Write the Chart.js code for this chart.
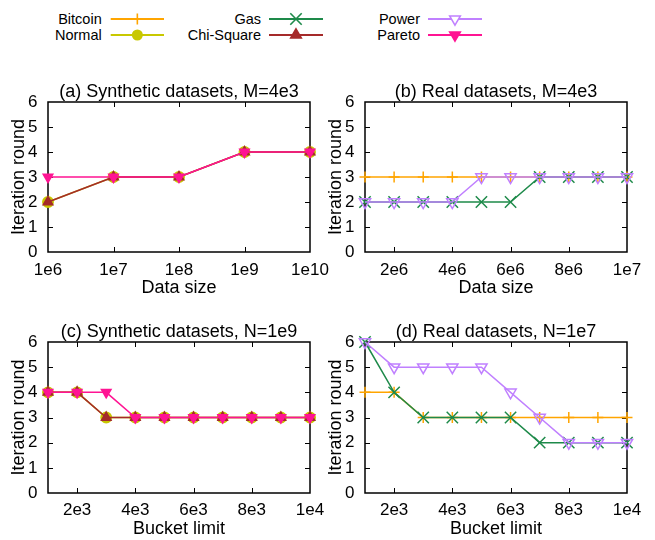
<!DOCTYPE html>
<html><head><meta charset="utf-8">
<script src="https://cdn.jsdelivr.net/npm/chart.js@4"></script>
<style>
html,body{margin:0;padding:0;background:#fff;}
#wrap{position:relative;width:655px;height:540px;overflow:hidden;font-family:'Liberation Sans',Arial,sans-serif;background:#fff;}
canvas{position:absolute;}
.lt{position:absolute;width:150px;text-align:right;font-size:14.5px;line-height:16px;color:#000;white-space:nowrap;}
#lsvg{position:absolute;left:0;top:0;}
</style></head><body>
<div id="wrap">
  <svg id="lsvg" width="655" height="50"></svg>
  <canvas id="ca" width="330" height="232" style="left:0;top:78px"></canvas>
  <canvas id="cb" width="338" height="232" style="left:317px;top:78px"></canvas>
  <canvas id="cc" width="330" height="222" style="left:0;top:318px"></canvas>
  <canvas id="cd" width="338" height="222" style="left:317px;top:318px"></canvas>
</div>
<script>
// ---------------- data ----------------
const seriesNames = ['Bitcoin', 'Normal', 'Gas', 'Chi-Square', 'Power', 'Pareto'];

// (a) Synthetic datasets, M=4e3
const dataSizeSynthetic = [1e6, 1e7, 1e8, 1e9, 1e10];
const normalA = [2, 3, 3, 4, 4];
const chiSquareA = [2, 3, 3, 4, 4];
const paretoA = [3, 3, 3, 4, 4];

// (b) Real datasets, M=4e3
const dataSizeReal = [1e6, 2e6, 3e6, 4e6, 5e6, 6e6, 7e6, 8e6, 9e6, 1e7];
const bitcoinB = [3, 3, 3, 3, 3, 3, 3, 3, 3, 3];
const gasB = [2, 2, 2, 2, 2, 2, 3, 3, 3, 3];
const powerB = [2, 2, 2, 2, 3, 3, 3, 3, 3, 3];

// (c) Synthetic datasets, N=1e9
const bucketLimits = [1000, 2000, 3000, 4000, 5000, 6000, 7000, 8000, 9000, 10000];
const normalC = [4, 4, 3, 3, 3, 3, 3, 3, 3, 3];
const chiSquareC = [4, 4, 3, 3, 3, 3, 3, 3, 3, 3];
const paretoC = [4, 4, 4, 3, 3, 3, 3, 3, 3, 3];

// (d) Real datasets, N=1e7
const bitcoinD = [4, 4, 3, 3, 3, 3, 3, 3, 3, 3];
const gasD = [6, 4, 3, 3, 3, 3, 2, 2, 2, 2];
const powerD = [6, 5, 5, 5, 5, 4, 3, 2, 2, 2];

// ticks
const tickValuesA = [1e6, 1e7, 1e8, 1e9, 1e10];
const tickLabelsA = ['1e6', '1e7', '1e8', '1e9', '1e10'];
const tickValuesB = [2e6, 4e6, 6e6, 8e6, 1e7];
const tickLabelsB = ['2e6', '4e6', '6e6', '8e6', '1e7'];
const tickValuesCD = [2000, 4000, 6000, 8000, 10000];
const tickLabelsCD = ['2e3', '4e3', '6e3', '8e3', '1e4'];
const yTickValues = [0, 1, 2, 3, 4, 5, 6];
const yTickLabels = ['0', '1', '2', '3', '4', '5', '6'];

// ---------------- styles ----------------
const FF = "'Liberation Sans', Arial, sans-serif";
Chart.defaults.font.family = FF;
Chart.defaults.color = '#000';

const STY = {
  'Bitcoin':    {color: '#ffa500', shape: 'cross',    radius: 5.5, rot: 0,   fill: false},
  'Normal':     {color: '#c8c800', shape: 'circle',   radius: 5.2, rot: 0,   fill: true},
  'Gas':        {color: '#1e8a4a', shape: 'crossRot', radius: 8,   rot: 0,   fill: false},
  'Chi-Square': {color: '#a52a2a', shape: 'triangle', radius: 5.5, rot: 0,   fill: true},
  'Power':      {color: '#c080ff', shape: 'triangle', radius: 6.5, rot: 180, fill: false},
  'Pareto':     {color: '#ff1493', shape: 'triangle', radius: 5.5, rot: 180, fill: true}
};

function ds(name, xs, ys) {
  const s = STY[name];
  const bg = s.fill ? s.color : 'rgba(0,0,0,0)';
  return {
    label: name,
    data: xs.map((x, i) => ({x: x, y: ys[i]})),
    borderColor: s.color, backgroundColor: bg, borderWidth: 1.5,
    pointStyle: s.shape, pointRadius: s.radius, pointRotation: s.rot,
    pointBorderColor: s.color, pointBackgroundColor: bg, pointBorderWidth: 1.5,
    tension: 0, fill: false, clip: false
  };
}

// inward tick marks + frame (gnuplot style)
const frame = {
  id: 'frame',
  beforeDatasetsDraw(chart) {
    const {ctx, chartArea: {left, right, top, bottom}, scales: {x, y}} = chart;
    ctx.save();
    ctx.strokeStyle = '#000';
    ctx.lineWidth = 1;
    ctx.beginPath();
    x.ticks.forEach(t => {
      const px = Math.round(x.getPixelForValue(t.value)) + 0.5;
      if (px > left + 2 && px < right - 2) {
        ctx.moveTo(px, bottom); ctx.lineTo(px, bottom - 5);
        ctx.moveTo(px, top); ctx.lineTo(px, top + 5);
      }
    });
    y.ticks.forEach(t => {
      const py = Math.round(y.getPixelForValue(t.value)) + 0.5;
      if (py > top + 2 && py < bottom - 2) {
        ctx.moveTo(left, py); ctx.lineTo(left + 5, py);
        ctx.moveTo(right, py); ctx.lineTo(right - 5, py);
      }
    });
    ctx.stroke();
    ctx.lineWidth = 1.5;
    ctx.strokeRect(left, top, right - left, bottom - top);
    ctx.restore();
  }
};

function makeChart(id, datasets, xBase, tickValues, tickLabels, titleText, xTitle, xHeight, xTickPad, xTitlePad, rightPad) {
  new Chart(document.getElementById(id), {
    type: 'line',
    data: {datasets: datasets},
    options: {
      responsive: false, animation: false, events: [],
      layout: {padding: {top: 0, left: 0, right: rightPad, bottom: 0}},
      plugins: {legend: {display: false}, tooltip: {enabled: false}},
      scales: {
        x: Object.assign({}, xBase, {
          position: 'bottom',
          grid: {display: false, drawTicks: false}, border: {display: false},
          afterBuildTicks: s => { s.ticks = tickValues.map(v => ({value: v})); },
          ticks: {autoSkip: false, maxRotation: 0, minRotation: 0, padding: xTickPad,
                  font: {size: 17, family: FF}, color: '#000',
                  callback: (v, i) => tickLabels[i]},
          title: {display: true, text: xTitle, color: '#000', font: {size: 18, family: FF},
                  padding: {top: 0, bottom: xTitlePad}},
          afterFit: s => { s.height = xHeight; s.paddingLeft = 0; s.paddingRight = 0; }
        }),
        // top axis only carries the panel title, centred over the plot area
        xt: {
          type: 'linear', position: 'top', display: true,
          grid: {display: false, drawTicks: false}, border: {display: false},
          ticks: {display: false},
          title: {display: true, text: titleText, color: '#000', font: {size: 18, family: FF},
                  padding: {top: 3, bottom: 0}},
          afterFit: s => { s.height = 24; s.paddingLeft = 0; s.paddingRight = 0; }
        },
        y: {
          type: 'linear', min: 0, max: 6, position: 'left',
          grid: {display: false, drawTicks: false}, border: {display: false},
          afterBuildTicks: s => { s.ticks = yTickValues.map(v => ({value: v})); },
          ticks: {padding: 10.5, font: {size: 17, family: FF}, color: '#000',
                  callback: (v, i) => yTickLabels[i]},
          title: {display: true, text: 'Iteration round', color: '#000', font: {size: 18, family: FF},
                  padding: {top: 8.5, bottom: 0}},
          afterFit: s => { s.width = 48; s.paddingTop = 0; s.paddingBottom = 0; }
        }
      }
    },
    plugins: [frame]
  });
}

// (a)
makeChart('ca',
  [ds('Pareto', dataSizeSynthetic, paretoA), ds('Chi-Square', dataSizeSynthetic, chiSquareA), ds('Normal', dataSizeSynthetic, normalA)],
  {type: 'logarithmic', min: 1e6, max: 1e10}, tickValuesA, tickLabelsA,
  '(a) Synthetic datasets, M=4e3', 'Data size', 58, 8, 11, 20);
// (b)
makeChart('cb',
  [ds('Power', dataSizeReal, powerB), ds('Gas', dataSizeReal, gasB), ds('Bitcoin', dataSizeReal, bitcoinB)],
  {type: 'linear', min: 1e6, max: 1e7}, tickValuesB, tickLabelsB,
  '(b) Real datasets, M=4e3', 'Data size', 58, 8, 11, 28);
// (c)
makeChart('cc',
  [ds('Pareto', bucketLimits, paretoC), ds('Chi-Square', bucketLimits, chiSquareC), ds('Normal', bucketLimits, normalC)],
  {type: 'linear', min: 1000, max: 10000}, tickValuesCD, tickLabelsCD,
  '(c) Synthetic datasets, N=1e9', 'Bucket limit', 47, 7, 0.2, 20);
// (d)
makeChart('cd',
  [ds('Power', bucketLimits, powerD), ds('Gas', bucketLimits, gasD), ds('Bitcoin', bucketLimits, bitcoinD)],
  {type: 'linear', min: 1000, max: 10000}, tickValuesCD, tickLabelsCD,
  '(d) Real datasets, N=1e7', 'Bucket limit', 47, 7, 0.2, 28);

// ---------------- legend (HTML text + SVG samples) ----------------
(function () {
  const wrap = document.getElementById('wrap');
  const svg = document.getElementById('lsvg');
  const NS = 'http://www.w3.org/2000/svg';
  const colText = [101.7, 261, 420];
  const colLine = [[110.7, 164], [269, 323], [428, 482]];
  const rowY = [19, 35];
  const place = {'Bitcoin': [0, 0], 'Normal': [0, 1], 'Gas': [1, 0], 'Chi-Square': [1, 1], 'Power': [2, 0], 'Pareto': [2, 1]};
  function el(tag, attrs) { const e = document.createElementNS(NS, tag); for (const k in attrs) e.setAttribute(k, attrs[k]); svg.appendChild(e); return e; }
  seriesNames.forEach(name => {
    const [c, r] = place[name];
    const s = STY[name];
    const y = rowY[r];
    const t = document.createElement('div');
    t.className = 'lt';
    t.textContent = name;
    t.style.left = (colText[c] - 150) + 'px';
    t.style.top = (y - 8.5) + 'px';
    wrap.appendChild(t);
    const [x0, x1] = colLine[c];
    el('line', {x1: x0, y1: y, x2: x1, y2: y, stroke: s.color, 'stroke-width': 1.8});
    const mx = (x0 + x1) / 2;
    if (s.shape === 'cross') {
      el('path', {d: `M${mx - 5.5} ${y}H${mx + 5.5}M${mx} ${y - 5.5}V${y + 5.5}`, stroke: s.color, 'stroke-width': 1.6, fill: 'none'});
    } else if (s.shape === 'crossRot') {
      el('path', {d: `M${mx - 5.7} ${y - 5.7}L${mx + 5.7} ${y + 5.7}M${mx + 5.7} ${y - 5.7}L${mx - 5.7} ${y + 5.7}`, stroke: s.color, 'stroke-width': 1.6, fill: 'none'});
    } else if (s.shape === 'circle') {
      el('circle', {cx: mx, cy: y, r: 5.5, fill: s.color});
    } else {
      const R = 6.2, h = R * 0.866;
      const pts = s.rot ? `${mx},${y + R} ${mx + h},${y - R / 2} ${mx - h},${y - R / 2}`
                        : `${mx},${y - R} ${mx + h},${y + R / 2} ${mx - h},${y + R / 2}`;
      el('polygon', {points: pts, fill: s.fill ? s.color : '#fff', stroke: s.color, 'stroke-width': 1.5});
    }
  });
})();
</script>
</body></html>
